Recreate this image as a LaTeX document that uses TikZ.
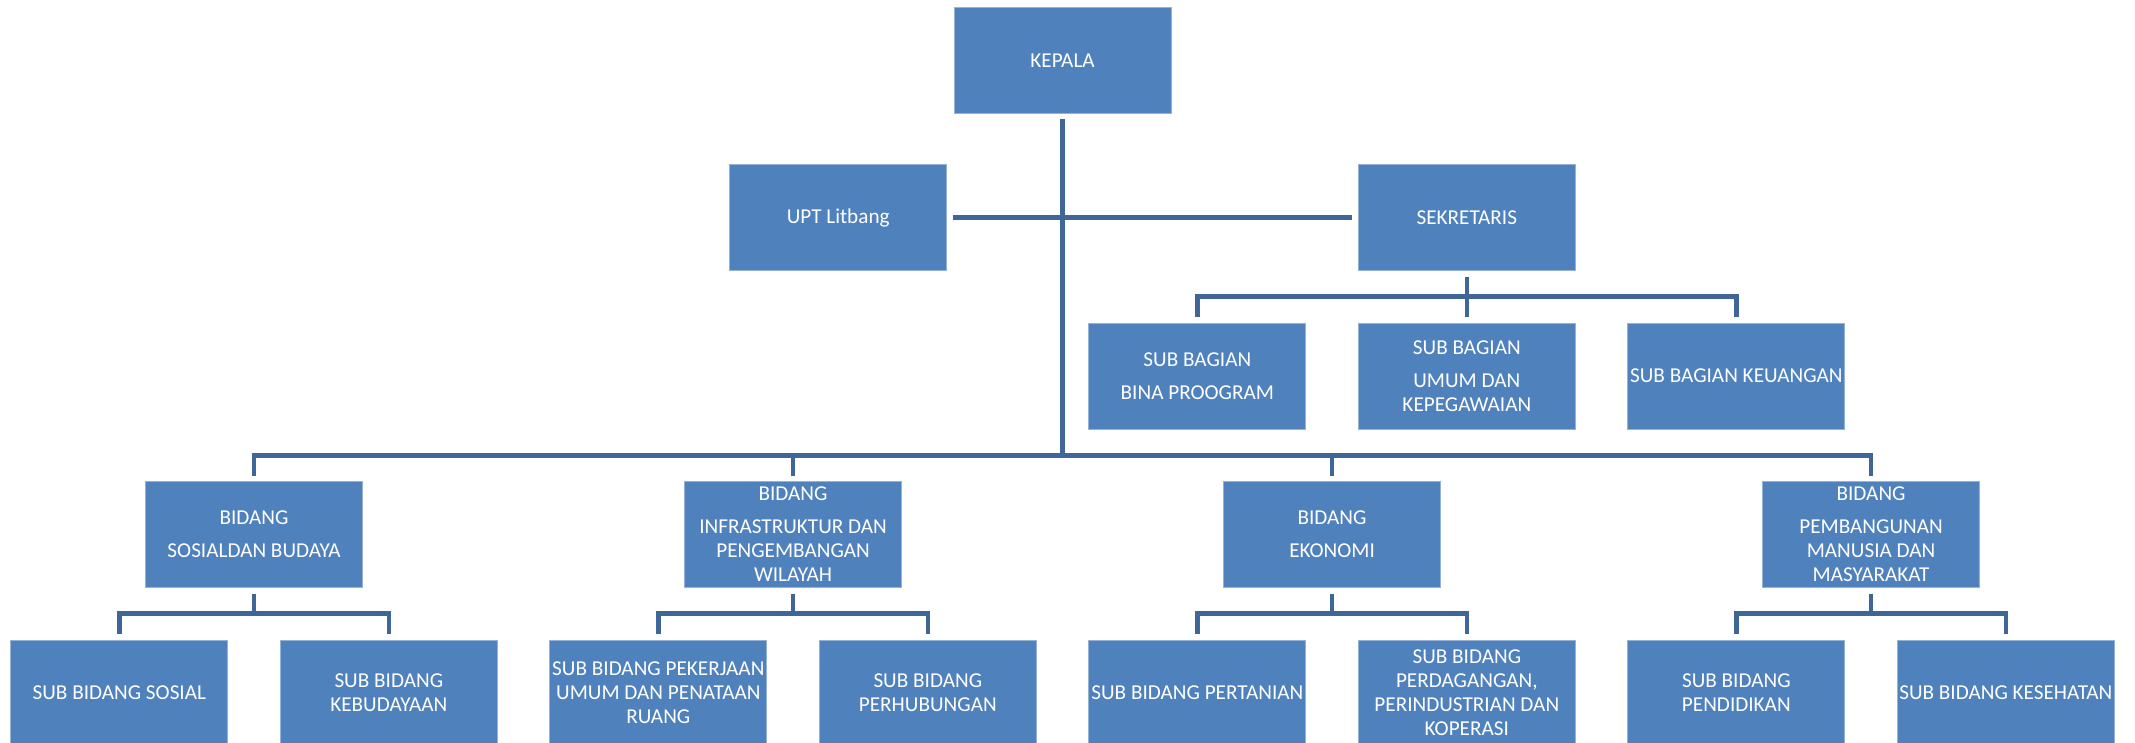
\documentclass[tikz,border=0pt]{standalone}
\usepackage{fontspec}
\setmainfont{Carlito}
\usetikzlibrary{positioning}

\definecolor{boxblue}{HTML}{4F81BD}
\definecolor{linkblue}{HTML}{3E6699}

\tikzset{
  orgbox/.style={draw=boxblue!60!white, line width=0.5pt, fill=boxblue, text=white,
    minimum width=108.5pt, minimum height=53pt, inner sep=0pt, outer sep=0pt, align=center,
    font=\fontsize{10.6}{12}\selectfont},
  link/.style={linkblue, line width=2.3pt},
}

\begin{document}
\begin{tikzpicture}[node distance=26.25pt]

  \useasboundingbox (0,0) rectangle (1067.5pt,-371.5pt);

  % Sub bidang row
  \node[orgbox] (b11) at (59.65pt,-346.5pt) {SUB BIDANG SOSIAL};
  \node[orgbox, right=of b11] (b12) {SUB BIDANG\\KEBUDAYAAN};
  \node[orgbox, right=of b12] (b21) {SUB BIDANG PEKERJAAN\\UMUM DAN PENATAAN\\RUANG};
  \node[orgbox, right=of b21] (b22) {SUB BIDANG\\PERHUBUNGAN};
  \node[orgbox, right=of b22] (b31) {SUB BIDANG PERTANIAN};
  \node[orgbox, right=of b31] (b32) {SUB BIDANG\\PERDAGANGAN,\\PERINDUSTRIAN DAN\\KOPERASI};
  \node[orgbox, right=of b32] (b41) {SUB BIDANG\\PENDIDIKAN};
  \node[orgbox, right=of b41] (b42) {SUB BIDANG KESEHATAN};
  % Bidang row
  \node[orgbox, above=of b11, xshift=67.375pt] (b1) {BIDANG\\[4.5pt]SOSIALDAN BUDAYA};
  \node[orgbox, above=of b21, xshift=67.375pt] (b2) {BIDANG\\[4.5pt]INFRASTRUKTUR DAN\\PENGEMBANGAN\\WILAYAH};
  \node[orgbox, above=of b31, xshift=67.375pt] (b3) {BIDANG\\[4.5pt]EKONOMI};
  \node[orgbox, above=of b41, xshift=67.375pt] (b4) {BIDANG\\[4.5pt]PEMBANGUNAN\\MANUSIA DAN\\MASYARAKAT};
  % Sub bagian row
  \node[orgbox, above=of b3, xshift=-67.375pt] (g1) {SUB BAGIAN\\[4.5pt]BINA PROOGRAM};
  \node[orgbox, right=of g1] (g2) {SUB BAGIAN\\[4.5pt]UMUM DAN\\KEPEGAWAIAN};
  \node[orgbox, right=of g2] (g3) {SUB BAGIAN KEUANGAN};
  % Top nodes
  \node[orgbox, above=of g2] (s) {SEKRETARIS};
  \node[orgbox, left=205.8pt of s] (u) {UPT Litbang};
  \node[orgbox, above=25.5pt of s, xshift=-202.125pt] (k) {KEPALA};

  % Kepala to bidang
  \path[draw, link] ([yshift=-3pt]k.south) |- ([yshift=13.125pt]b1.north) -- ([yshift=3pt]b1.north);
  \path[draw, link] ([yshift=-3pt]k.south) |- ([yshift=13.125pt]b2.north) -- ([yshift=3pt]b2.north);
  \path[draw, link] ([yshift=-3pt]k.south) |- ([yshift=13.125pt]b3.north) -- ([yshift=3pt]b3.north);
  \path[draw, link] ([yshift=-3pt]k.south) |- ([yshift=13.125pt]b4.north) -- ([yshift=3pt]b4.north);
  % UPT and sekretaris
  \path[draw, link] ([xshift=3pt]u.east) to ([xshift=-3pt]s.west);
  % Sekretaris to sub bagian
  \path[draw, link] ([yshift=-3pt]s.south) -- ++(0,-10.125pt) -| ([yshift=3pt]g1.north);
  \path[draw, link] ([yshift=-3pt]s.south) to ([yshift=3pt]g2.north);
  \path[draw, link] ([yshift=-3pt]s.south) -- ++(0,-10.125pt) -| ([yshift=3pt]g3.north);
  % Bidang to sub bidang
  \path[draw, link] ([yshift=-3pt]b1.south) -- ++(0,-10.125pt) -| ([yshift=3pt]b11.north);
  \path[draw, link] ([yshift=-3pt]b1.south) -- ++(0,-10.125pt) -| ([yshift=3pt]b12.north);
  \path[draw, link] ([yshift=-3pt]b2.south) -- ++(0,-10.125pt) -| ([yshift=3pt]b21.north);
  \path[draw, link] ([yshift=-3pt]b2.south) -- ++(0,-10.125pt) -| ([yshift=3pt]b22.north);
  \path[draw, link] ([yshift=-3pt]b3.south) -- ++(0,-10.125pt) -| ([yshift=3pt]b31.north);
  \path[draw, link] ([yshift=-3pt]b3.south) -- ++(0,-10.125pt) -| ([yshift=3pt]b32.north);
  \path[draw, link] ([yshift=-3pt]b4.south) -- ++(0,-10.125pt) -| ([yshift=3pt]b41.north);
  \path[draw, link] ([yshift=-3pt]b4.south) -- ++(0,-10.125pt) -| ([yshift=3pt]b42.north);

\end{tikzpicture}
\end{document}
